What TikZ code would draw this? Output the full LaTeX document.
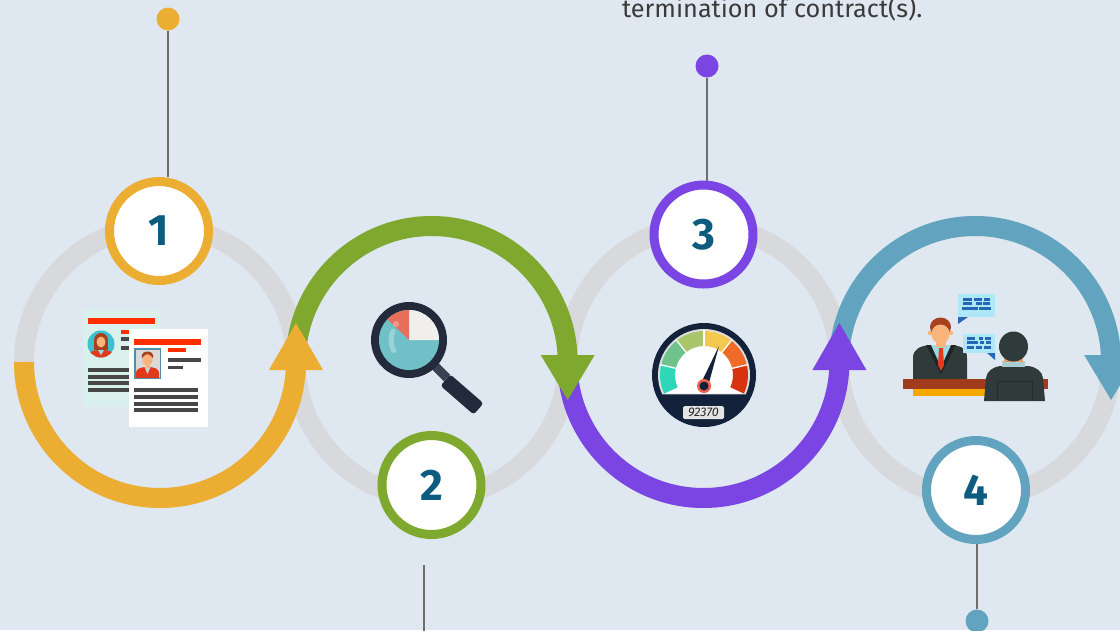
\documentclass[tikz,border=0pt]{standalone}
\usepackage{fontspec}
\setmainfont{Fira Sans}
\usetikzlibrary{calc}

% palette
\definecolor{bg}{HTML}{DFE8F0}
\definecolor{ringgray}{HTML}{D8D9DC}
\definecolor{cOrange}{HTML}{EBAE33}
\definecolor{cGreen}{HTML}{7EA92E}
\definecolor{cPurple}{HTML}{7A45E3}
\definecolor{cBlue}{HTML}{62A4C0}
\definecolor{numblue}{HTML}{0D5C80}
\definecolor{pingray}{HTML}{6E6E6E}
\definecolor{captiongray}{HTML}{3A3A3A}
\definecolor{mint}{HTML}{D9F0EC}
\definecolor{cvred}{HTML}{FF2E00}
\definecolor{cvgray}{HTML}{474747}
\definecolor{avteal}{HTML}{3DC0CF}
\definecolor{skin}{HTML}{F9B47C}
\definecolor{hairbrown}{HTML}{A8411E}
\definecolor{jacketred}{HTML}{E2391B}
\definecolor{photobg}{HTML}{DADADA}
\definecolor{photoframe}{HTML}{4E8EA8}
\definecolor{magnavy}{HTML}{232A3C}
\definecolor{neckgray}{HTML}{3A4152}
\definecolor{lensteal}{HTML}{6FC1C7}
\definecolor{slicewhite}{HTML}{F1EFEC}
\definecolor{slicered}{HTML}{E7705D}
\definecolor{gaugenavy}{HTML}{13213B}
\definecolor{rimgray}{HTML}{DCDCDC}
\definecolor{gA}{HTML}{2ED7B8}
\definecolor{gB}{HTML}{6EC28B}
\definecolor{gC}{HTML}{A9C66B}
\definecolor{gD}{HTML}{F3C84F}
\definecolor{gE}{HTML}{F06A2A}
\definecolor{gF}{HTML}{D9320F}
\definecolor{pivotred}{HTML}{F0604C}
\definecolor{odogray}{HTML}{E4E4E4}
\definecolor{deskbrown}{HTML}{A03B1C}
\definecolor{deskyellow}{HTML}{F5A800}
\definecolor{suit}{HTML}{2F3A3A}
\definecolor{lapel}{HTML}{1D2626}
\definecolor{shirtblue}{HTML}{9ED7E2}
\definecolor{tiered}{HTML}{E63B1A}
\definecolor{collar}{HTML}{A8CDD2}
\definecolor{bubble}{HTML}{ADE7F8}
\definecolor{bubbletail}{HTML}{2A66B2}
\definecolor{bubbletext}{HTML}{2468B5}

\begin{document}
\begin{tikzpicture}[x=1pt,y=1pt,yscale=-1,
  ringband/.style={line width=20pt},
  numcirc/.style={circle, draw=#1, line width=9pt, fill=white,
    minimum size=99pt, inner sep=0pt, text=numblue,
    font=\bfseries\fontsize{44}{44}\selectfont},
  pindot/.style={circle, fill=#1, minimum size=23pt, inner sep=0pt},
  pinline/.style={draw=pingray, line width=2.5pt}]

\useasboundingbox (0,0) rectangle (1120,630);
\clip (0,0) rectangle (1120,630);
\fill[bg] (0,0) rectangle (1120,630);

% ring centres
\coordinate (r1) at (160,362);
\coordinate (r2) at (431.7,362);
\coordinate (r3) at (703.4,362);
\coordinate (r4) at (975.1,362);

% grey track rings
\foreach \r in {r1,r2,r3,r4}
  \draw[ringband, ringgray] (\r) circle[radius=136];

% step 4 arc (over the top, arrow pointing down)
\draw[ringband, cBlue] ($(r4)+(180:136)$) arc[start angle=180, end angle=358, radius=136];
\fill[cBlue] ($(r4)+(109,-7)$) -- ($(r4)+(163,-7)$) -- ($(r4)+(136,38)$) -- cycle;

% step 3 arc (under the bottom, arrow pointing up)
\draw[ringband, cPurple] ($(r3)+(180:136)$) arc[start angle=180, end angle=2, radius=136];
\fill[cPurple] ($(r3)+(109,8)$) -- ($(r3)+(163,8)$) -- ($(r3)+(136,-39)$) -- cycle;

% step 2 arc
\draw[ringband, cGreen] ($(r2)+(180:136)$) arc[start angle=180, end angle=358, radius=136];
\fill[cGreen] ($(r2)+(109,-7)$) -- ($(r2)+(163,-7)$) -- ($(r2)+(136,38)$) -- cycle;

% step 1 arc
\draw[ringband, cOrange] ($(r1)+(180:136)$) arc[start angle=180, end angle=2, radius=136];
\fill[cOrange] ($(r1)+(109,8)$) -- ($(r1)+(163,8)$) -- ($(r1)+(136,-39)$) -- cycle;

% ---------- icon 1: two CVs ----------
\fill[mint] (83,309) rectangle (161,407);
\fill[cvred] (88,318) rectangle (155,324);
\fill[cvred] (121,330) rectangle (129,334);
\fill[cvgray] (121,337) rectangle (129,341);
\fill[cvgray] (121,346) rectangle (129,350);
\foreach \y in {368,375,381,388}
  \fill[cvgray] (88,\y) rectangle (129,\y+4);
\fill[avteal] (101,344) circle[radius=13.5];
\begin{scope}
  \clip (101,344) circle[radius=13.5];
  \fill[hairbrown] (101,340) ellipse[x radius=7, y radius=7];
  \fill[hairbrown] (94,339) rectangle (108,350);
  \fill[jacketred] (87,360) .. controls (87,352) and (92,350) .. (101,350)
        .. controls (110,350) and (115,352) .. (115,360) -- cycle;
  \fill[avteal!55!white] (98,350) -- (104,350) -- (101,355) -- cycle;
  \fill[skin] (101,342) ellipse[x radius=4.5, y radius=5.5];
\end{scope}
\fill[white] (129,329) rectangle (208,427);
\fill[cvred] (134,339) rectangle (201,345);
\filldraw[fill=photobg, draw=photoframe, line width=1.5pt] (134.75,348.75) rectangle (160.25,378.25);
\begin{scope}
  \clip (135.5,349.5) rectangle (159.5,377.5);
  \fill[jacketred] (136,379) -- (136,373) .. controls (136,369) and (140,367) .. (147.5,367)
        .. controls (155,367) and (159,369) .. (159,373) -- (159,379) -- cycle;
  \fill[gray!35] (144.5,367) -- (150.5,367) -- (147.5,374) -- cycle;
  \fill[skin] (145.5,363) rectangle (149.5,368);
  \fill[hairbrown] (147.5,356) ellipse[x radius=6, y radius=4.5];
  \fill[skin] (147.5,360) ellipse[x radius=5, y radius=5.8];
\end{scope}
\fill[cvred] (168,348) rectangle (186,352);
\fill[cvgray] (168,358) rectangle (201,362);
\fill[cvgray] (168,366) rectangle (183,369);
\foreach \y in {388,395,402,408}
  \fill[cvgray] (134,\y) rectangle (198,\y+3.7);

% ---------- icon 2: magnifier over a pie ----------
\draw[neckgray, line width=9pt] (428,359) -- (447,378);
\begin{scope}[shift={(462,394.5)}, rotate=41]
  \fill[magnavy, rounded corners=3pt] (-22,-7.5) rectangle (22,7.5);
\end{scope}
\fill[magnavy] (409,340) circle[radius=38];
\fill[lensteal] (409,340) circle[radius=30];
\fill[slicewhite] (409,340) -- ($(409,340)+(-90:30)$) arc[start angle=-90, end angle=0, radius=30] -- cycle;
\fill[slicered] (409,340) -- ($(409,340)+(-136:30)$) arc[start angle=-136, end angle=-90, radius=30] -- cycle;
\draw[white, opacity=0.3, line width=5pt, line cap=round]
  ($(412,340)+(205:21)$) arc[start angle=205, end angle=150, radius=21];
\fill[white, opacity=0.3] (396,324) circle[radius=3];

% ---------- icon 3: speedometer ----------
\coordinate (gc) at (704,375);
\fill[gaugenavy] (gc) circle[radius=52];
\fill[rimgray] ($(gc)+(155:46)$) arc[start angle=155, end angle=385, radius=46] -- cycle;
\fill[white] ($(gc)+(155:44)$) arc[start angle=155, end angle=385, radius=44] -- cycle;
\foreach \col [count=\i from 0] in {gA,gB,gC,gD,gE,gF} {
  \pgfmathsetmacro\aa{155+\i*38.3333}
  \pgfmathsetmacro\bb{\aa+38.3333}
  \fill[\col] ($(gc)+(\aa:44)$) arc[start angle=\aa, end angle=\bb, radius=44]
     -- ($(gc)+(\bb:29)$) arc[start angle=\bb, end angle=\aa, radius=29] -- cycle;
}
\foreach \k in {1,...,5} {
  \pgfmathsetmacro\aa{155+\k*38.3333}
  \draw[white, line width=1.3pt] ($(gc)+(\aa:28)$) -- ($(gc)+(\aa:45)$);
}
\fill[gaugenavy] (700.3,384.6) -- (719,346) -- (707.7,387.4) -- cycle;
\fill[pivotred] (704,386) circle[radius=7];
\fill[gaugenavy] (704,386) circle[radius=4.5];
\fill[odogray, rounded corners=1.5pt] (683,406) rectangle (724,419);
\node[font=\itshape\fontsize{12.5}{12.5}\selectfont, text=black!85, inner sep=0pt] (odo) at (703.5,412.5) {92370};

% ---------- icon 4: interview ----------
% interviewer behind the desk
\fill[suit] (913,380) -- (913,358) .. controls (913,349) and (920,346) .. (930,345)
     -- (952,345) .. controls (962,346) and (967,349) .. (967,358) -- (967,380) -- cycle;
\fill[lapel] (926,345) -- (941,374) -- (956,345) -- cycle;
\fill[shirtblue] (931,345) -- (951,345) -- (941,367) -- cycle;
\fill[tiered] (939,348) -- (943,348) -- (944,365) -- (941,371) -- (938,365) -- cycle;
\fill[skin] (936,337) rectangle (946,347);
\fill[skin] (930,333) circle[radius=2.2];
\fill[skin] (951,333) circle[radius=2.2];
\fill[hairbrown] (940.5,327) ellipse[x radius=10.5, y radius=9.5];
\fill[skin] (940.5,334) ellipse[x radius=9.2, y radius=9.5];
% desk
\fill[deskbrown] (903,379) rectangle (1048,389);
\fill[deskyellow] (913,389) rectangle (1033,396);
% candidate seen from behind
\fill[suit] (984,401) -- (986,378) .. controls (987,371) and (993,367) .. (1000,366)
     -- (1028,366) .. controls (1036,367) and (1042,371) .. (1043,378) -- (1045,401) -- cycle;
\draw[lapel!70!suit, line width=0.8pt] (997,401) -- (997,381) -- (1032,381) -- (1032,401);
\fill[collar] (1002,361) rectangle (1025,367);
\fill[skin!80!hairbrown] (1004,357) rectangle (1023,361.5);
\fill[suit] (1013.5,346.5) ellipse[x radius=14.5, y radius=15];
% speech bubbles
\fill[bubble] (958,294) rectangle (995,317);
\fill[bubbletail] (958,317) -- (968,317) -- (958,324) -- cycle;
\foreach \xa/\xb/\ya in {963/972/297.5, 974/982/297.5, 984/990/297.5,
                         963/972/302.3, 976/982/302.3, 983/990/302.3,
                         962/978/306.7, 979/991/306.7}
  \fill[bubbletext] (\xa,\ya) rectangle (\xb,\ya+3);
\fill[bubble] (963,334) rectangle (995,353);
\fill[bubbletail] (987,353) -- (995,353) -- (995,360) -- cycle;
\foreach \xa/\xb/\ya in {967/975/337, 979/983/337, 985/991/337,
                         967/978/341.3, 980/984/341.3, 986/991/341.3,
                         967/974/346, 976/982/346, 984/991/346}
  \fill[bubbletext] (\xa,\ya) rectangle (\xb,\ya+2.6);

% ---------- step numbers ----------
\node[numcirc=cOrange] (n1) at (159,231) {1};
\node[numcirc=cGreen]  (n2) at (431.5,485) {2};
\node[numcirc=cPurple] (n3) at (703.5,234.5) {3};
\node[numcirc=cBlue]   (n4) at (976,490) {4};

% ---------- pins ----------
\node[pindot=cOrange] (d1) at (168,19) {};
\node[pindot=cPurple] (d3) at (707,66) {};
\node[pindot=cBlue]   (d4) at (977,621) {};
\coordinate (p2top) at (424,565);
\coordinate (p2bot) at (424,632);
\draw[pinline] (d1.south) -- (d1 |- n1.north);
\draw[pinline] (d3.south) -- (d3 |- n3.north);
\draw[pinline] (d4.north) -- (d4 |- n4.south);
\draw[pinline] (p2top) -- (p2bot);

% ---------- caption fragment ----------
\node[anchor=base west, inner sep=0pt, text=captiongray,
      font=\fontsize{25}{25}\selectfont] (caption) at (622,17)
      {\scalebox{1.01}[1]{termination of contract(s).}};

\end{tikzpicture}
\end{document}
